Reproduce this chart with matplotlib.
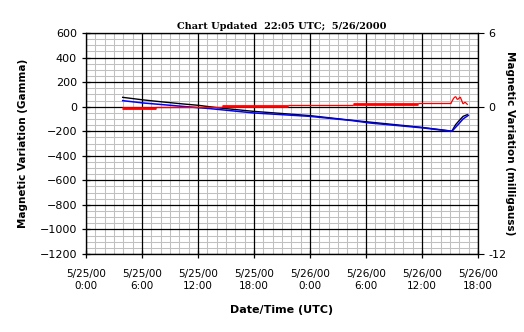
import matplotlib
matplotlib.use("Agg")
import matplotlib.pyplot as plt
from matplotlib.ticker import MultipleLocator, FixedLocator

# Data (hours since 5/25/00 0:00 UTC; values in gamma)
black_t = [3.93, 6.14, 8.28, 10.42, 12.03, 14.36, 17.93, 24.0, 28.6, 35.8, 39.2, 39.6, 40.0, 40.4, 40.85]
black_v = [76, 55, 38, 22, 11, -11, -38, -73, -112, -167, -199, -147, -112, -79, -65]

blue_t = [3.93, 6.14, 8.28, 10.42, 13.29, 17.93, 24.0, 28.6, 30.4, 36.1, 39.2, 39.8, 40.4, 40.96]
blue_v = [49, 30, 16, 2, -16, -51, -79, -114, -133, -173, -201, -152, -100, -71]

red_t = [3.9, 7.5, 7.5, 14.6, 14.6, 21.6, 21.6, 28.6, 28.6, 35.6, 35.6, 39.1, 39.4, 39.6, 39.8, 40.1, 40.4, 40.6, 40.9]
red_v = [-10, -10, -3, -3, 6, 6, 14, 14, 22, 22, 28, 28, 70, 83, 57, 79, 22, 37, 16]
red_dense = [True, False, False, False, True, False, False, False, True, False,
             False, False, False, False, False, False, False, False, False]

xtick_hours = [0, 6, 12, 18, 24, 30, 36, 42]
xtick_labels = ["5/25/00\n0:00", "5/25/00\n6:00", "5/25/00\n12:00", "5/25/00\n18:00",
                "5/26/00\n0:00", "5/26/00\n6:00", "5/26/00\n12:00", "5/26/00\n18:00"]
ytick_vals = [600, 400, 200, 0, -200, -400, -600, -800, -1000, -1200]
right_ticks = [6, 0, -12]

fig = plt.figure(figsize=(5.24, 3.32), dpi=100)
ax = fig.add_axes([86/524, 1-254/332, (478-86)/524, (254-33)/332])

ax.set_xlim(0, 42)
ax.set_ylim(-1200, 600)

ax.xaxis.set_major_locator(FixedLocator(xtick_hours))
ax.xaxis.set_minor_locator(MultipleLocator(1))
ax.yaxis.set_major_locator(FixedLocator(ytick_vals))
ax.yaxis.set_minor_locator(MultipleLocator(50))

# minor grid (gray) underneath, major grid (black) drawn on top of it
ax.grid(which="minor", color="#c0c0c0", lw=0.75)
ax.set_axisbelow(True)
for h in xtick_hours:
    ax.axvline(h, color="black", lw=0.9, zorder=1)
for v in ytick_vals:
    ax.axhline(v, color="black", lw=0.9, zorder=1)

ax.set_xticklabels(xtick_labels, fontsize=7.5)
ax.tick_params(axis="y", labelsize=8)
ax.tick_params(which="major", direction="inout", length=6, width=0.9)
ax.tick_params(which="minor", length=0)
ax.tick_params(axis="x", pad=8)

for sp in ax.spines.values():
    sp.set_color("black")
    sp.set_linewidth(0.9)

# series
ax.plot(black_t, black_v, color="black", lw=1.0, zorder=3)
ax.plot(blue_t, blue_v, color="#0000ff", lw=1.1, zorder=4)
for i in range(len(red_t) - 1):
    lw = 2.0 if red_dense[i] else 0.9
    ax.plot(red_t[i:i+2], red_v[i:i+2], color="#ff0000", lw=lw, zorder=5,
            solid_capstyle="butt")

ax.set_title("Chart Updated  22:05 UTC;  5/26/2000", fontsize=7, fontweight="bold",
             family="DejaVu Serif", pad=3)
ax.set_xlabel("Date/Time (UTC)", fontsize=8, fontweight="bold", labelpad=10)
ax.set_ylabel("Magnetic Variation (Gamma)", fontsize=7.5, fontweight="bold", labelpad=8)

ax2 = ax.twinx()
ax2.set_ylim(-12, 6)
ax2.yaxis.set_major_locator(FixedLocator(right_ticks))
ax2.set_yticklabels([str(v) if v >= 0 else "-" + str(-v) for v in right_ticks])
ax2.tick_params(axis="y", labelsize=8, direction="out", length=4)
ax2.set_ylabel("Magnetic Variation (milligauss)", fontsize=7.5, fontweight="bold",
               rotation=-90, labelpad=6)

fig.savefig("out.png", dpi=100)
